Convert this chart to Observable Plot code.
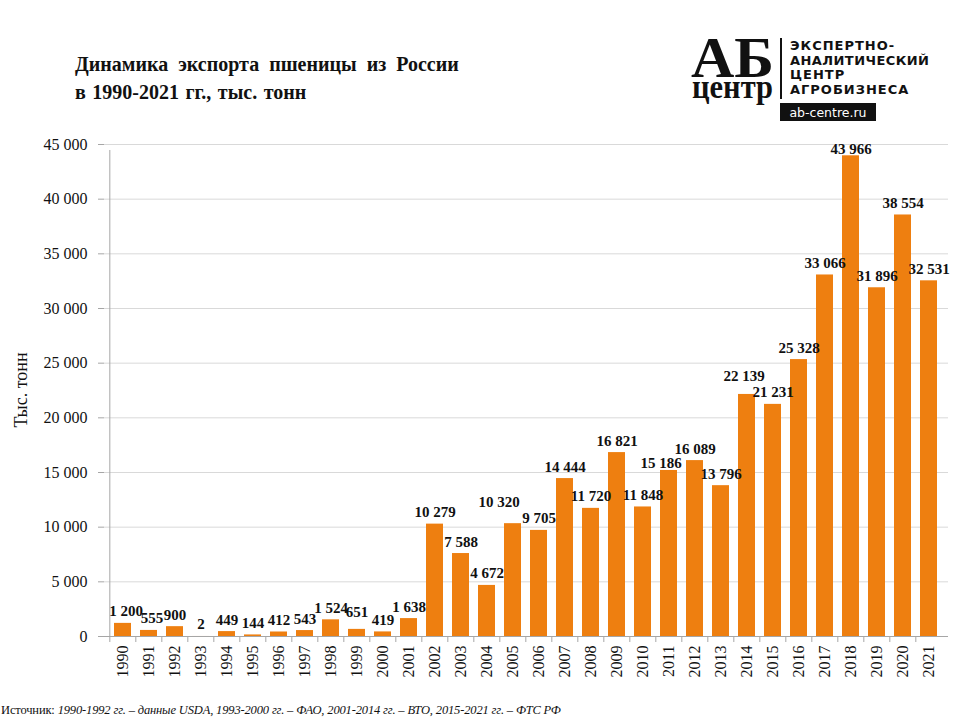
<!DOCTYPE html>
<html>
<head>
<meta charset="utf-8">
<script src="https://cdn.jsdelivr.net/npm/d3@7"></script>
<script src="https://cdn.jsdelivr.net/npm/@observablehq/plot@0.6"></script>
<style>
  html, body { margin: 0; padding: 0; background: #fff; }
  body { width: 960px; height: 720px; position: relative; overflow: hidden; font-family: "Liberation Serif", "DejaVu Serif", serif; }
  #title { position: absolute; left: 75px; top: 50px; font-weight: bold; font-size: 20px; line-height: 28px; color: #111; }
  #title .l1 { word-spacing: 5px; }
  #title .l2 { word-spacing: 1.5px; }
  #chart { position: absolute; left: 0; top: 0; }
  #ylabel { position: absolute; left: 21px; top: 390px; transform: translate(-50%, -50%) rotate(-90deg); font-size: 18px; white-space: nowrap; color: #111; }
  #source { position: absolute; left: 1px; top: 703px; font-size: 12.5px; letter-spacing: -0.15px; color: #111; white-space: nowrap; }
  #source i { font-style: italic; }
  #logo { position: absolute; left: 0; top: 0; }
</style>
</head>
<body>
<div id="chart"></div>
<div id="title"><span class="l1">Динамика экспорта пшеницы из России</span><br><span class="l2">в 1990-2021 гг., тыс. тонн</span></div>
<svg id="logo" width="960" height="130" xmlns="http://www.w3.org/2000/svg">
  <g fill="#111">
    <text x="691" y="77" font-family="Liberation Serif, serif" font-weight="bold" font-size="57" textLength="83" lengthAdjust="spacingAndGlyphs">АБ</text>
    <text x="692" y="98" font-family="Liberation Serif, serif" font-weight="bold" font-size="33" textLength="81" lengthAdjust="spacingAndGlyphs">центр</text>
    <rect x="780" y="38" width="2" height="61"></rect>
    <g font-family="DejaVu Sans, sans-serif" font-weight="bold" font-size="13" letter-spacing="1">
      <text x="790" y="50">ЭКСПЕРТНО-</text>
      <text x="790" y="65" textLength="140" lengthAdjust="spacing">АНАЛИТИЧЕСКИЙ</text>
      <text x="790" y="79">ЦЕНТР</text>
      <text x="790" y="94">АГРОБИЗНЕСА</text>
    </g>
    <rect x="780" y="103" width="96" height="18"></rect>
    <text x="828" y="116.5" fill="#fff" text-anchor="middle" font-family="DejaVu Sans, sans-serif" font-size="12.5">ab-centre.ru</text>
  </g>
</svg>
<div id="ylabel">Тыс. тонн</div>
<div id="source">Источник: <i>1990-1992 гг. – данные USDA, 1993-2000 гг. – ФАО, 2001-2014 гг. – ВТО, 2015-2021 гг. – ФТС РФ</i></div>
<script>
const years = [1990,1991,1992,1993,1994,1995,1996,1997,1998,1999,2000,2001,2002,2003,2004,2005,2006,2007,2008,2009,2010,2011,2012,2013,2014,2015,2016,2017,2018,2019,2020,2021];
const exportsKt = [1200,555,900,2,449,144,412,543,1524,651,419,1638,10279,7588,4672,10320,9705,14444,11720,16821,11848,15186,16089,13796,22139,21231,25328,33066,43966,31896,38554,32531];
const yTicks = [0,5000,10000,15000,20000,25000,30000,35000,40000,45000];
// label placement tweaks (style only): [year, dx px, dy px]
const labelNudge = [[1990,3,0],[1991,3,0],[1999,0,-5],[2005,-14,-10],[2011,-8,5],[2014,-3,-6],[2018,0,5]];

const nudge = new Map(labelNudge.map(([y, dx, dy]) => [String(y), {dx, dy}]));
const data = years.map((y, i) => ({year: String(y), value: exportsKt[i]}));
const fmt = v => d3.format(",")(v).replace(/,/g, " ");

const W = 960, H = 720, ml = 104, mr = 12, mt = 144, mb = 84;
const step = (W - ml - mr) / years.length;
const orange = "#EE7F10";
const font = "'Liberation Serif', 'Times New Roman', serif";
const baseDy = -7;

const labelMarks = data.map(d => {
  const n = nudge.get(d.year) || {dx: 0, dy: 0};
  return Plot.text([d], {x: "year", y: "value", text: q => fmt(q.value), lineAnchor: "bottom", dx: n.dx, dy: baseDy + n.dy, fontWeight: "bold", fontSize: 15, fontFamily: font, fill: "#111"});
});

const chart = Plot.plot({
  width: W, height: H,
  marginLeft: ml, marginRight: mr, marginTop: mt, marginBottom: mb,
  style: {fontFamily: font, fontSize: "16px", color: "#111", background: "transparent"},
  x: {type: "band", domain: years.map(String), paddingInner: 0.34, paddingOuter: 0.17, label: null},
  y: {domain: [0, 45000], label: null},
  marks: [
    Plot.gridY(yTicks, {stroke: "#d9d9d9", strokeOpacity: 1}),
    Plot.barY(data, {x: "year", y: "value", fill: orange}),
    Plot.ruleY([0], {stroke: "#a6a6a6"}),
    Plot.ruleX(years.map(String), {y1: 0, y2: 0, dx: -step / 2, stroke: "#a6a6a6", insetBottom: -6}),
    Plot.ruleX([String(years[0])], {y1: 0, y2: 45000, dx: -step / 2, stroke: "#a6a6a6", insetBottom: -6}),
    Plot.axisY(yTicks, {tickFormat: fmt, tickSize: 6, tickPadding: 11, stroke: "#a6a6a6", fontSize: 16, fontFamily: font, fill: "#111", label: null}),
    Plot.axisX({tickSize: 0, tickRotate: -90, tickPadding: 9, fontSize: 16, fontFamily: font, fill: "#111", label: null}),
    ...labelMarks
  ]
});
document.getElementById("chart").appendChild(chart);
</script>
</body>
</html>
